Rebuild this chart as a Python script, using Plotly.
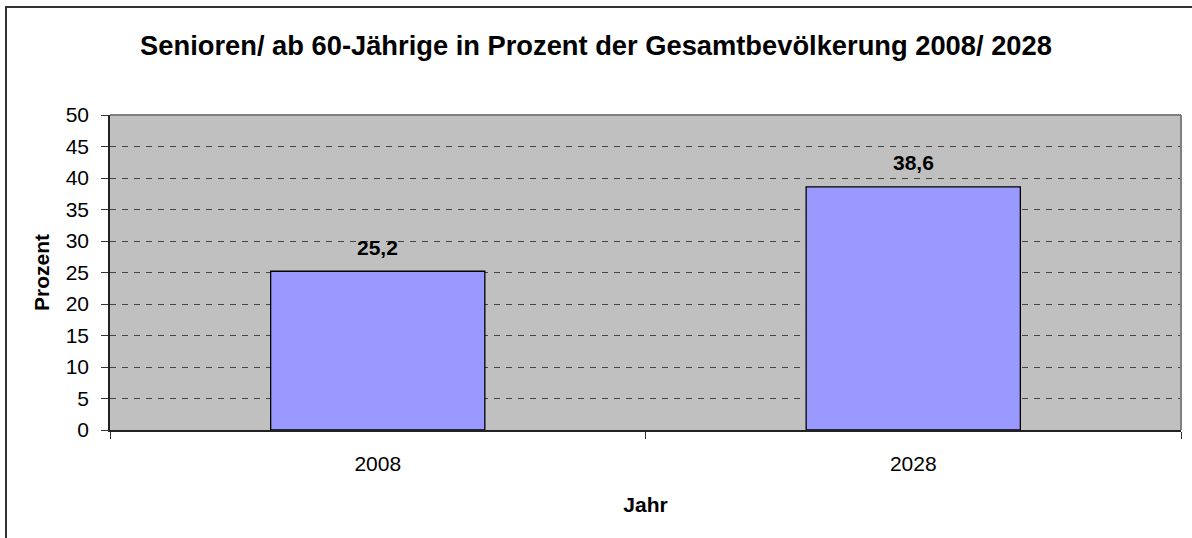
import plotly.graph_objects as go

categories = ["2008", "2028"]
values = [25.2, 38.6]
y_ticks = [0, 5, 10, 15, 20, 25, 30, 35, 40, 45, 50]

title = "Senioren/ ab 60-Jährige in Prozent der Gesamtbevölkerung 2008/ 2028"
FONT = "Liberation Sans, Arial, sans-serif"

fig = go.Figure()
fig.add_trace(go.Bar(
    x=categories, y=values, width=0.4,
    marker=dict(color="#9999FF", line=dict(color="black", width=1.3)),
    showlegend=False, hoverinfo="skip",
))
for i, v in enumerate(values):
    fig.add_annotation(x=i, y=v, text="<b>" + f"{v:.1f}".replace(".", ",") + "</b>",
                       showarrow=False, yshift=24, font=dict(size=21, color="black", family=FONT))

fig.update_layout(
    width=1192, height=538,
    margin=dict(l=110, r=11, t=115, b=108),
    paper_bgcolor="white", plot_bgcolor="#C0C0C0",
    font=dict(family=FONT, size=21, color="black"),
    title=dict(text="<b>" + title + "</b>", x=0.5, xanchor="center", y=1 - 45 / 538, yanchor="middle",
               font=dict(size=27.3, family=FONT, color="black")),
    separators=",.",
    bargap=0.6,
)
fig.update_xaxes(
    type="category", tickson="boundaries", ticks="outside", ticklen=7, tickcolor="#333",
    showline=True, linecolor="#222", linewidth=1.5, showgrid=False, tickangle=0,
    ticklabelstandoff=14,
    tickfont=dict(size=21), title=dict(text="<b>Jahr</b>", font=dict(size=21), standoff=23),
)
fig.update_yaxes(
    range=[0, 50], tickvals=y_ticks, ticks="outside", ticklen=7, tickcolor="#333",
    showline=True, linecolor="#222", linewidth=1.5,
    showgrid=True, gridcolor="#444", griddash="6px,6px", gridwidth=1,
    zeroline=False, tickfont=dict(size=21), ticklabelstandoff=8,
    title=dict(text="<b>Prozent</b>", font=dict(size=21), standoff=10),
)
# plot area top/right gray border
fig.add_shape(type="line", xref="paper", yref="paper", x0=0, x1=1, y0=1, y1=1,
              line=dict(color="#808080", width=2))
fig.add_shape(type="line", xref="paper", yref="paper", x0=1, x1=1, y0=0, y1=1,
              line=dict(color="#808080", width=2))
# outer chart border
fig.add_shape(type="rect", xref="paper", yref="paper",
              x0=(6 - 110) / 1071, x1=1.05, y0=-0.4, y1=(430 - 7) / 315,
              line=dict(color="#333", width=2), fillcolor="rgba(0,0,0,0)", layer="above")

fig.write_html("out.html", config={"displayModeBar": False},
               post_script="document.body.style.margin='0px';")
